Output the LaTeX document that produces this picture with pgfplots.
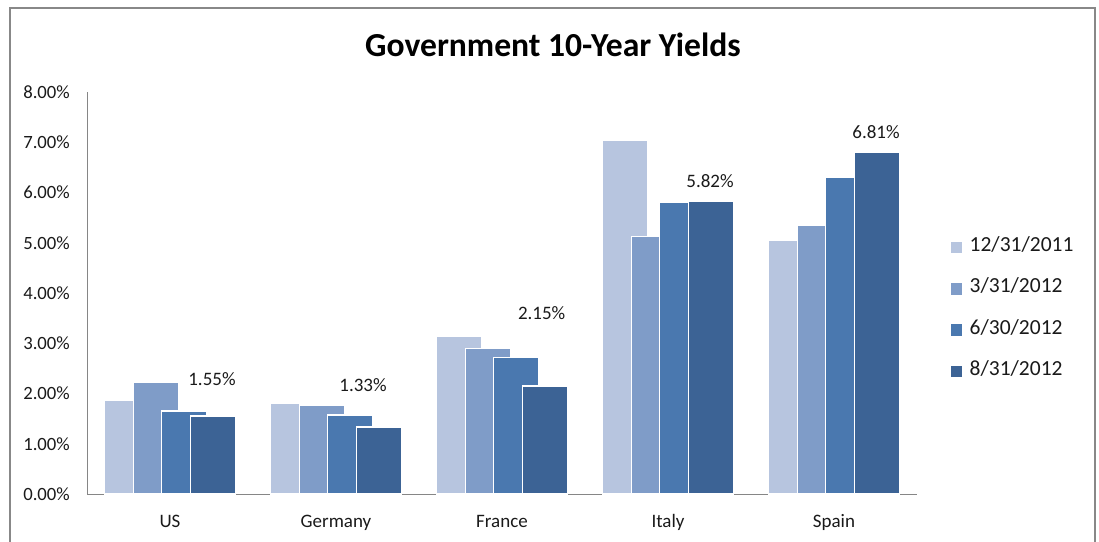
\documentclass[border=0pt]{standalone}
\usepackage{pgfplots}
\pgfplotsset{compat=1.18}
\usepackage{fontspec}
\setmainfont{Carlito}
\definecolor{cA}{HTML}{B7C5DF}
\definecolor{cB}{HTML}{7F9CC8}
\definecolor{cC}{HTML}{4A78AF}
\definecolor{cD}{HTML}{3C6395}
\definecolor{axisgray}{HTML}{868686}
\definecolor{framegray}{HTML}{888888}
\definecolor{txt}{HTML}{1A1A1A}
\pgfplotsset{
  mybar/.style={ybar, fill=#1, draw=white, line width=1.4pt, bar width=0.271,
    legend image code/.code={\fill[fill=#1] (0pt,-6.5pt) rectangle (13pt,6.5pt);}},
}
\begin{document}
\begin{tikzpicture}
\begin{axis}[
  at={(87pt,47pt)}, anchor=south west, scale only axis,
  width=830pt, height=402pt,
  xmin=-0.5, xmax=4.5, ymin=0, ymax=8,
  axis x line*=bottom, axis y line*=left,
  axis line style={color=axisgray, line width=1pt, -},
  xtick={0,1,2,3,4}, xticklabels={US,Germany,France,Italy,Spain},
  ytick={0,1,2,3,4,5,6,7,8},
  major tick length=0pt,
  /pgf/number format/assume math mode=true,
  yticklabel={\pgfmathprintnumber[fixed,fixed zerofill,precision=2]{\tick}\%},
  yticklabel style={anchor=east, inner sep=0pt, xshift=-17pt, text=txt,
    font=\fontsize{18.7}{20}\selectfont},
  xticklabel style={anchor=base, inner sep=0pt, yshift=-33pt, text=txt,
    font=\fontsize{19}{21}\selectfont},
  title={Government 10-Year Yields},
  title style={at={(0.5614,1.0871)}, anchor=base, inner sep=0pt, yshift=-6pt,
    font=\bfseries\fontsize{33.6}{36}\selectfont},
  legend style={at={(1.0386,0.6385)}, anchor=north west, draw=none, fill=none,
    inner sep=0pt, row sep=21.3pt, column sep=6pt, text=txt,
    font=\fontsize{21.5}{24}\selectfont,
    nodes={inner sep=0pt, text height=14pt, text depth=6pt}},
  legend cell align=left,
]
\addplot[mybar=cA, bar shift=-0.2575] coordinates {(0,1.87) (1,1.81) (2,3.14) (3,7.04) (4,5.05)};
\addplot[mybar=cB, bar shift=-0.0858] coordinates {(0,2.23) (1,1.77) (2,2.89) (3,5.12) (4,5.35)};
\addplot[mybar=cC, bar shift=0.0858] coordinates {(0,1.65) (1,1.57) (2,2.72) (3,5.80) (4,6.30)};
\addplot[mybar=cD, bar shift=0.2575] coordinates {(0,1.55) (1,1.33) (2,2.15) (3,5.82) (4,6.81)};
\legend{12/31/2011, 3/31/2012, 6/30/2012, 8/31/2012}
\addplot[draw=none, mark=none, forget plot, nodes near coords={\pgfplotspointmeta\%},
  point meta=explicit symbolic,
  every node near coord/.append style={anchor=base, inner sep=0pt, text=txt,
    font=\fontsize{19}{21}\selectfont}]
  table[meta=lab] {
x y lab
0.253 2.169 1.55
1.163 2.030 1.33
2.239 3.463 2.15
3.253 6.090 5.82
4.253 7.079 6.81
};
\end{axis}
\draw[color=framegray, line width=2pt] (9.5pt,-5pt) |- (1095pt,533pt) -- (1095pt,-5pt);
\pgfresetboundingbox
\path[use as bounding box] (0pt,0pt) rectangle (1099pt,541pt);
\end{tikzpicture}
\end{document}
